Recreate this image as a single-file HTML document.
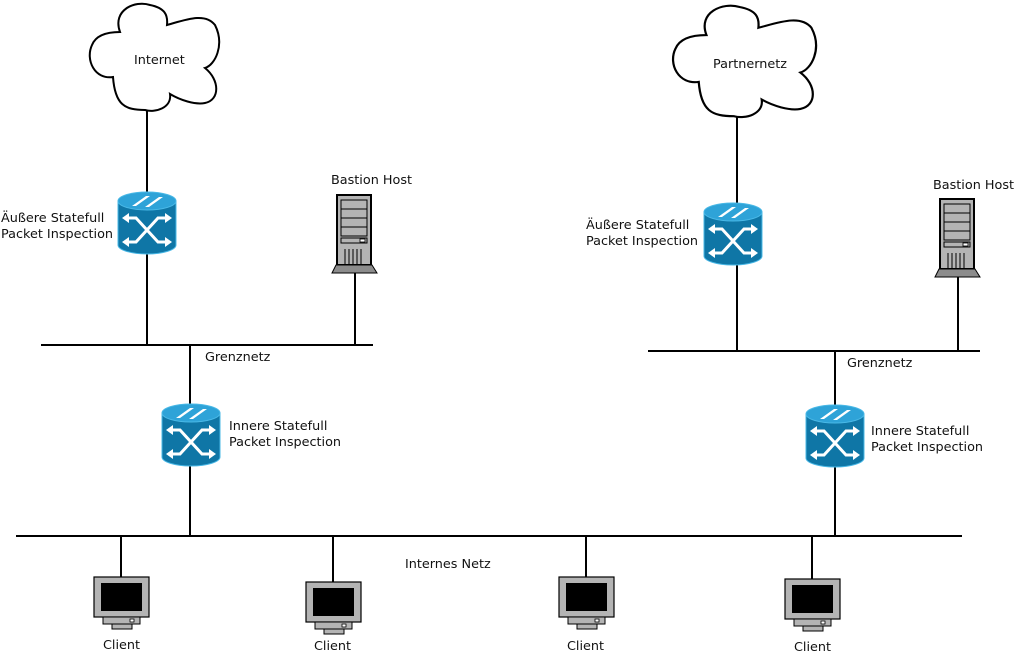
<!DOCTYPE html>
<html><head><meta charset="utf-8"><style>
html,body{margin:0;padding:0;background:#fff;}
svg{display:block}
text{font-family:"DejaVu Sans","Liberation Sans",sans-serif;font-size:12.8px;fill:#111}
</style></head><body>
<svg width="1015" height="655" viewBox="0 0 1015 655" xmlns="http://www.w3.org/2000/svg">
<defs>
<g id="rt">
  <path d="M0,9 L0,53 A29,9 0 0 0 58,53 L58,9 Z" fill="#0f76a6" stroke="#49b8e6" stroke-width="1"/>
  <ellipse cx="29" cy="9" rx="29" ry="9" fill="#2ea3d8" stroke="#49b8e6" stroke-width="1"/>
  <path d="M14,14 L28,4 L32,4 L18,14 Z M27,15 L41,5 L45,5 L31,15 Z" fill="#fff"/>
  <g stroke="#fff" stroke-width="3" fill="none">
    <path d="M10,26 L18,26 L40,50 L48,50"/>
    <path d="M10,50 L18,50 L40,26 L48,26"/>
  </g>
  <g fill="#fff">
    <path d="M4,26 L11,21 L11,31 Z"/><path d="M54,26 L47,21 L47,31 Z"/>
    <path d="M4,50 L11,45 L11,55 Z"/><path d="M54,50 L47,45 L47,55 Z"/>
  </g>
</g>
<g id="srv">
  <rect x="5" y="0" width="34" height="70" fill="#b4b4b4" stroke="#000" stroke-width="2"/>
  <rect x="9" y="5" width="26" height="9" fill="#b4b4b4" stroke="#000" stroke-width="1"/>
  <rect x="9" y="14" width="26" height="9" fill="#b4b4b4" stroke="#000" stroke-width="1"/>
  <rect x="9" y="23" width="26" height="9" fill="#b4b4b4" stroke="#000" stroke-width="1"/>
  <rect x="9" y="32" width="26" height="9" fill="#b4b4b4" stroke="#000" stroke-width="1"/>
  <rect x="9" y="43" width="26" height="5" fill="#b4b4b4" stroke="#000" stroke-width="1"/>
  <rect x="28" y="44" width="5" height="3" fill="#fff" stroke="#000" stroke-width="0.8"/>
  <g stroke="#000" stroke-width="1"><path d="M13,54V69M17,54V69M21,54V69M25,54V69M29,54V69"/></g>
  <path d="M4,70 L40,70 L45,78 L0,78 Z" fill="#8c8c8c" stroke="#000" stroke-width="1"/>
</g>
<g id="cli">
  <rect x="0" y="0" width="55" height="40" fill="#b4b4b4" stroke="#000" stroke-width="1.2"/>
  <rect x="7" y="6" width="41" height="28" fill="#000"/>
  <rect x="9" y="40" width="37" height="7" fill="#b4b4b4" stroke="#000" stroke-width="1"/>
  <rect x="36" y="42" width="4" height="3" fill="#fff" stroke="#000" stroke-width="0.8"/>
  <rect x="18" y="47" width="20" height="5" fill="#b4b4b4" stroke="#000" stroke-width="1"/>
</g>
<path id="cloud" d="M120,32 C112,10 135,0 150,5 C165,8 168,15 167,25 C185,20 205,12 215,25 C225,45 215,65 205,68 C220,80 220,100 205,103 C195,105 180,100 170,94 C172,108 155,113 145,110 C125,110 115,105 113,77 C95,80 85,60 92,45 C96,35 108,32 120,32 Z" fill="#fff" stroke="#000" stroke-width="2"/>
</defs>

<g stroke="#000" stroke-width="2" fill="none">
  <path d="M147,108V345 M41,345H373 M355,273V345 M190,345V536 M16,536H962"/>
  <path d="M121,536V578 M333,536V583 M586,536V578 M812,536V580"/>
  <path d="M737,113V351 M648,351H980 M958,276V351 M835,351V536"/>
</g>

<use href="#cloud"/>
<use href="#cloud" transform="translate(670,7) scale(1.105,1.04) translate(-87,-5)"/>

<use href="#rt" x="118" y="192"/>
<use href="#rt" x="162" y="404"/>
<use href="#rt" x="704" y="203"/>
<use href="#rt" x="806" y="405"/>

<use href="#srv" x="332" y="195"/>
<use href="#srv" x="935" y="199"/>

<use href="#cli" x="94" y="577"/>
<use href="#cli" x="306" y="582"/>
<use href="#cli" x="559" y="577"/>
<use href="#cli" x="785" y="579"/>

<text x="134" y="64">Internet</text>
<text x="713" y="68">Partnernetz</text>
<text x="331" y="184">Bastion Host</text>
<text x="933" y="189">Bastion Host</text>
<text x="1" y="222">Äußere Statefull</text>
<text x="1" y="238">Packet Inspection</text>
<text x="586" y="229">Äußere Statefull</text>
<text x="586" y="245">Packet Inspection</text>
<text x="205" y="361">Grenznetz</text>
<text x="847" y="367">Grenznetz</text>
<text x="229" y="430">Innere Statefull</text>
<text x="229" y="446">Packet Inspection</text>
<text x="871" y="435">Innere Statefull</text>
<text x="871" y="451">Packet Inspection</text>
<text x="405" y="568">Internes Netz</text>
<text x="103" y="649">Client</text>
<text x="314" y="650">Client</text>
<text x="567" y="650">Client</text>
<text x="794" y="651">Client</text>
</svg>
</body></html>
